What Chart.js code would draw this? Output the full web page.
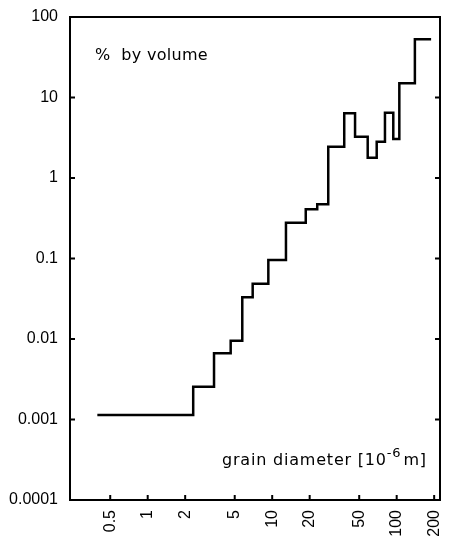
<!DOCTYPE html>
<html>
<head>
<meta charset="utf-8">
<script src="https://cdn.jsdelivr.net/npm/chart.js@4.4.0/dist/chart.umd.min.js"></script>
<style>
  body { margin: 0; background: #fff; }
  #wrap { width: 450px; height: 546px; position: relative; }
</style>
</head>
<body>
<div id="wrap"><canvas id="grafica"></canvas></div>
<script>
// left edges of each class (grain diameter, 10^-6 m) and % by volume
const edges = [0.394, 2.32, 3.41, 4.64, 5.75, 6.97, 9.31, 12.9, 18.6, 23.0, 28.2, 37.9, 46.3, 58.5, 69.1, 80.5, 93.9, 105, 140, 189];
const values = [0.00114, 0.00256, 0.00664, 0.0095, 0.033, 0.0486, 0.0957, 0.279, 0.408, 0.471, 2.45, 6.37, 3.26, 1.79, 2.83, 6.47, 3.05, 15.0, 52.8, 52.8];

const xTicks = [0.5, 1, 2, 5, 10, 20, 50, 100, 200];
const xTickLabels = ['0.5', '1', '2', '5', '10', '20', '50', '100', '200'];
const yTicks = [0.0001, 0.001, 0.01, 0.1, 1, 10, 100];
const yTickLabels = ['0.0001', '0.001', '0.01', '0.1', '1', '10', '100'];

const puntos = edges.map((x, i) => ({ x: x, y: values[i] }));

// marco, marcas interiores y textos
const marco = {
  id: 'marco',
  afterDraw(chart) {
    const ctx = chart.ctx;
    const a = chart.chartArea;
    const sx = chart.scales.x;
    const sy = chart.scales.y;
    ctx.save();
    ctx.strokeStyle = '#000';
    ctx.lineWidth = 2;
    ctx.strokeRect(a.left, a.top, a.right - a.left, a.bottom - a.top);

    ctx.beginPath();
    yTicks.forEach(v => {
      const y = sy.getPixelForValue(v);
      ctx.moveTo(a.left, y); ctx.lineTo(a.left + 5, y);
      ctx.moveTo(a.right, y); ctx.lineTo(a.right - 5, y);
    });
    xTicks.forEach(v => {
      const x = sx.getPixelForValue(v);
      ctx.moveTo(x, a.bottom); ctx.lineTo(x, a.bottom - 5);
    });
    ctx.stroke();

    ctx.fillStyle = '#000';
    ctx.font = '16px "DejaVu Sans"';
    ctx.textBaseline = 'alphabetic';
    ctx.letterSpacing = '0.3px';
    ctx.fillText('%  by volume', 95, 60);

    // grain diameter [10^-6 m]
    ctx.letterSpacing = '0.8px';
    let x = 222;
    const base = 465;
    const t1 = 'grain diameter [10';
    ctx.fillText(t1, x, base);
    x += ctx.measureText(t1).width;
    ctx.font = '13px "DejaVu Sans"';
    ctx.fillText('-6', x, base - 8);
    x += ctx.measureText('-6').width + 2;
    ctx.font = '16px "DejaVu Sans"';
    ctx.fillText('m]', x, base);
    ctx.restore();
  }
};

new Chart(document.getElementById('grafica'), {
  type: 'line',
  data: {
    datasets: [{
      data: puntos,
      borderColor: '#000',
      borderWidth: 2.5,
      pointRadius: 0,
      stepped: 'before',
      fill: false
    }]
  },
  options: {
    responsive: true,
    maintainAspectRatio: false,
    animation: false,
    layout: { padding: { top: 17, right: 10, left: 0, bottom: 0 } },
    plugins: {
      legend: { display: false },
      tooltip: { enabled: false }
    },
    scales: {
      x: {
        type: 'logarithmic',
        min: 0.2376,
        max: 222.8,
        afterBuildTicks: s => { s.ticks = xTicks.map(v => ({ value: v })); },
        afterFit: s => { s.height = 46; s.paddingRight = 0; s.paddingLeft = 0; },
        grid: { display: false },
        border: { display: false },
        ticks: {
          minRotation: 90,
          maxRotation: 90,
          padding: 2,
          color: '#000',
          font: { family: '"Liberation Sans", Arial', size: 16 },
          callback: (v, i) => xTickLabels[i]
        }
      },
      y: {
        type: 'logarithmic',
        min: 0.0001,
        max: 100,
        afterBuildTicks: s => { s.ticks = yTicks.map(v => ({ value: v })); },
        afterFit: s => { s.width = 70; },
        grid: { display: false },
        border: { display: false },
        ticks: {
          padding: 4,
          color: '#000',
          font: { family: '"Liberation Sans", Arial', size: 16 },
          callback: (v, i) => yTickLabels[i]
        }
      }
    }
  },
  plugins: [marco]
});
</script>
</body>
</html>
